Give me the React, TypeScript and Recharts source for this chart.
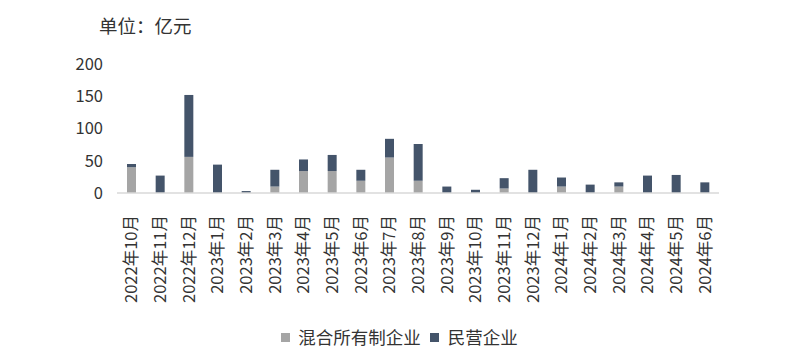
import React from "react";
import { BarChart, Bar, XAxis, YAxis } from "recharts";

const categories = [
  "2022年10月", "2022年11月", "2022年12月", "2023年1月", "2023年2月", "2023年3月",
  "2023年4月", "2023年5月", "2023年6月", "2023年7月", "2023年8月", "2023年9月",
  "2023年10月", "2023年11月", "2023年12月", "2024年1月", "2024年2月", "2024年3月",
  "2024年4月", "2024年5月", "2024年6月",
];
const mixedOwnership = [40, 0, 56, 0, 0, 10, 34, 34, 19, 55, 19, 0, 0, 7, 0, 10, 0, 10, 0, 0, 0];
const privateEnterprise = [5, 27, 96, 44, 3, 26, 18, 25, 17, 29, 57, 10, 5, 16, 36, 14, 13, 6.5, 27, 28, 16.5];
const yTicks = [0, 50, 100, 150, 200];

const seriesNames = { mixed: "混合所有制企业", priv: "民营企业" };
const colors = { mixed: "#A5A5A5", priv: "#44546A" };

const data = categories.map((c, i) => ({
  name: c,
  mixed: mixedOwnership[i],
  priv: privateEnterprise[i],
}));

const FONT = '"Noto Sans CJK SC", "Noto Sans", sans-serif';

const XTick = (props: any) => {
  const { x, y, payload } = props;
  const ty = y + 14;
  return (
    <text
      x={x}
      y={ty}
      transform={`rotate(-90, ${x}, ${ty})`}
      textAnchor="end"
      dy="0.36em"
      fontSize={16.5}
      fill="#333"
      fontFamily={FONT}
    >
      {payload.value}
    </text>
  );
};

export default function App() {
  return (
    <div style={{ position: "relative", margin: -8, width: 799, height: 359, background: "#fff", fontFamily: FONT }}>
      <div style={{ position: "absolute", left: 99, top: 12, fontSize: 18.5, color: "#333", lineHeight: "26px" }}>
        单位：亿元
      </div>
      <BarChart
        width={799}
        height={359}
        data={data}
        margin={{ top: 64, right: 80, bottom: 56, left: 0 }}
      >
        <XAxis
          dataKey="name"
          interval={0}
          height={110}
          tick={<XTick />}
          tickLine={false}
          axisLine={{ stroke: "#D9D9D9", strokeWidth: 1.5 }}
        />
        <YAxis
          width={117}
          domain={[0, 200]}
          ticks={yTicks}
          axisLine={false}
          tickLine={false}
          tickSize={0}
          tickMargin={14}
          tick={{ fontSize: 16.5, fill: "#333", fontFamily: FONT }}
        />
        <Bar dataKey="mixed" stackId="a" fill={colors.mixed} barSize={9} isAnimationActive={false} name={seriesNames.mixed} />
        <Bar dataKey="priv" stackId="a" fill={colors.priv} barSize={9} isAnimationActive={false} name={seriesNames.priv} />
      </BarChart>
      <div
        style={{
          position: "absolute",
          left: 0,
          top: 324,
          width: 799,
          display: "flex",
          justifyContent: "center",
          alignItems: "center",
          fontSize: 17.5,
          color: "#333",
          lineHeight: "26px",
        }}
      >
        <span style={{ display: "inline-block", width: 9, height: 9, background: colors.mixed, marginRight: 8 }} />
        <span style={{ marginRight: 9 }}>{seriesNames.mixed}</span>
        <span style={{ display: "inline-block", width: 9, height: 9, background: colors.priv, marginRight: 9 }} />
        <span>{seriesNames.priv}</span>
      </div>
    </div>
  );
}
